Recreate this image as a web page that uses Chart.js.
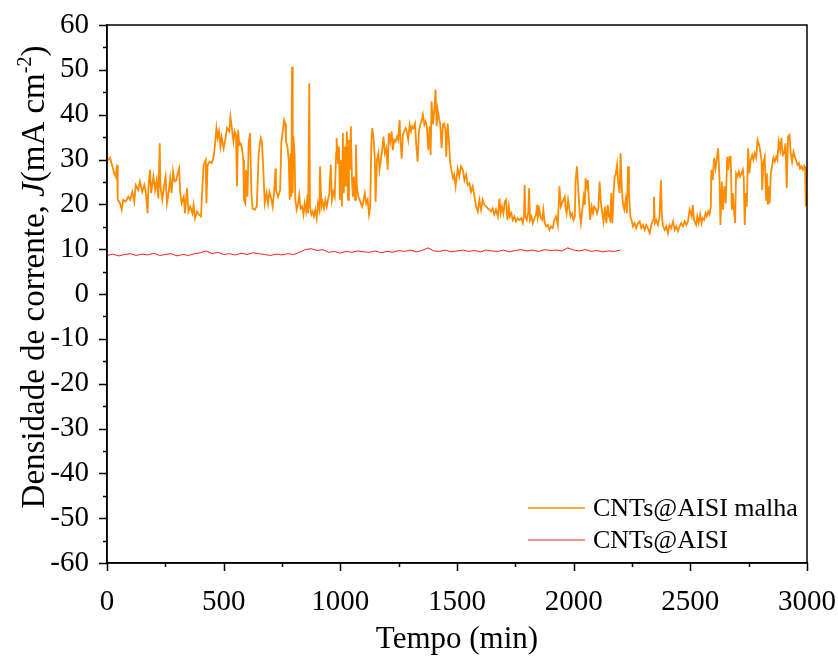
<!DOCTYPE html>
<html>
<head>
<meta charset="utf-8">
<script src="https://cdn.jsdelivr.net/npm/chart.js@4.4.1/dist/chart.umd.min.js"></script>
<style>
  html, body { margin: 0; padding: 0; background: #fff; }
  #wrap { width: 838px; height: 658px; }
</style>
</head>
<body>
<div id="wrap"><canvas id="chart" width="838" height="658"></canvas></div>
<script>
// CNTs@AISI malha (orange) - time in min, current density in mA cm-2
const orangeTime = [
  0, 13, 23, 31, 37, 43, 46, 56, 63, 70, 80, 91, 99, 109, 117, 123, 134, 141, 151, 160,
  166, 174, 177, 184, 189, 199, 206, 213, 220, 226, 229, 237, 243, 251, 257, 263, 271, 277, 283, 289,
  297, 303, 309, 314, 320, 329, 334, 343, 349, 357, 366, 371, 377, 386, 394, 403, 409, 414, 423, 426,
  431, 440, 449, 457, 463, 469, 474, 480, 486, 491,
  500, 507, 514, 524, 529, 536, 542, 547, 553, 557, 562, 567, 573, 579, 584, 587, 593, 596, 602, 607,
  613, 619, 624, 633, 642, 650, 659, 664, 670, 676, 684, 690, 696, 704, 710, 716, 722, 724, 733, 742,
  747, 753, 759, 764, 767, 773, 779, 783, 787, 790, 793, 796, 799, 804, 807, 813, 819, 824, 830, 836,
  842, 847, 853, 859, 862, 867, 870, 876, 882, 887, 893, 899, 904, 910, 913, 919, 924, 930, 936, 942,
  947, 953, 959, 964, 970, 976, 982, 984, 990,
  994, 998, 1003, 1007, 1011, 1015, 1020, 1024, 1028, 1033, 1037, 1041, 1045, 1050, 1054, 1058, 1063, 1067, 1071, 1077,
  1083, 1088, 1094, 1100, 1105, 1111, 1117, 1123, 1128, 1133, 1137, 1143, 1148, 1151, 1157, 1163, 1168, 1174, 1180, 1185,
  1191, 1197, 1203, 1208, 1214, 1220, 1225, 1231, 1237, 1243, 1248, 1254, 1258, 1263, 1268, 1274, 1280, 1285, 1291, 1297,
  1303, 1308, 1314, 1320, 1325, 1331, 1337, 1343, 1348, 1354, 1360, 1365, 1371, 1377, 1383, 1387, 1391, 1397, 1403, 1408,
  1413, 1417, 1423, 1428, 1434, 1440, 1445, 1451, 1454, 1460, 1465, 1471, 1477, 1483, 1488, 1494,
  1503, 1510, 1517, 1525, 1532, 1539, 1546, 1553, 1560, 1567, 1575, 1582, 1589, 1596, 1603, 1610, 1617, 1625, 1632, 1639,
  1646, 1653, 1660, 1667, 1675, 1682, 1687, 1693, 1699, 1705, 1710, 1716, 1722, 1727, 1733, 1739, 1746, 1753, 1760, 1767,
  1775, 1782, 1787, 1790, 1793, 1799, 1805, 1809, 1813, 1819, 1825, 1832, 1839, 1843, 1847, 1853, 1859, 1865, 1870, 1876,
  1882, 1889, 1896, 1903, 1910, 1917, 1925, 1932, 1939, 1945, 1950, 1956, 1962, 1965, 1970, 1976, 1982, 1987, 1993, 1999, 2005,
  2008, 2014, 2020, 2026, 2031, 2037, 2043, 2048, 2051, 2057, 2061, 2066, 2071, 2077, 2083, 2088, 2094, 2100, 2106, 2111,
  2117, 2123, 2128, 2134, 2140, 2146, 2151, 2157, 2161, 2166, 2171, 2176, 2180, 2186, 2191, 2197, 2201, 2206, 2211, 2217,
  2223, 2228, 2233, 2237, 2243, 2248, 2254, 2261, 2268, 2276, 2283, 2290, 2297, 2304, 2311, 2318, 2326, 2333, 2340, 2344,
  2348, 2354, 2361, 2368, 2374, 2378, 2383, 2390, 2397, 2404, 2411, 2418, 2426, 2433, 2440, 2447, 2454, 2461, 2468, 2476,
  2483, 2490, 2497,
  2506, 2510, 2516, 2525, 2530, 2536, 2542, 2548, 2553, 2559, 2565, 2570, 2576, 2582, 2588, 2590, 2596, 2602, 2608, 2613,
  2619, 2625, 2629, 2635, 2640, 2646, 2652, 2658, 2663, 2668, 2673, 2678, 2682, 2688, 2692, 2696, 2702, 2708, 2713, 2719,
  2725, 2729, 2733, 2738, 2742, 2748, 2753, 2759, 2765, 2770, 2776, 2782, 2788, 2793, 2799, 2805, 2808, 2813, 2819, 2825,
  2828, 2832, 2836, 2840, 2845, 2850, 2856, 2862, 2868, 2873, 2879, 2885, 2890, 2896, 2902, 2908, 2913, 2919, 2925, 2930,
  2936, 2942, 2948, 2953, 2959, 2965, 2970, 2976, 2982, 2988, 2992, 2995, 2996, 3000
];
const orangeJ = [
  29.6, 30.4, 28.5, 26.9, 26.2, 28.8, 21.0, 20.2, 18.8, 21.0, 20.6, 21.7, 21.0, 22.8, 20.6, 24.3, 23.2, 25.1, 22.8, 24.3,
  22.8, 18.0, 23.2, 27.7, 22.5, 26.2, 23.2, 25.4, 21.3, 33.6, 24.0, 21.0, 23.6, 26.2, 20.2, 22.1, 25.8, 22.5, 27.3, 25.1,
  25.4, 26.9, 28.0, 22.5, 20.2, 21.7, 18.0, 23.6, 18.4, 19.5, 18.0, 19.9, 16.9, 18.4, 17.7, 17.3, 24.0, 28.8, 29.9, 20.2,
  28.8, 29.5, 29.2, 30.6, 33.3, 37.0, 34.8, 36.3, 32.9, 35.1,
  32.5, 34.4, 37.0, 36.3, 39.5, 36.6, 34.0, 36.3, 35.5, 24.0, 36.6, 33.3, 33.6, 32.5, 29.9, 21.0, 20.2, 27.7, 21.7, 33.6,
  35.9, 22.5, 19.1, 18.8, 19.5, 31.4, 34.8, 34.0, 27.7, 20.2, 22.5, 20.2, 22.8, 21.3, 19.5, 22.5, 28.0, 23.2, 21.7, 23.2,
  33.6, 36.3, 38.8, 38.0, 34.0, 32.9, 29.9, 21.0, 31.4, 21.7, 50.7, 22.5, 35.1, 31.4, 21.0, 18.8, 20.2, 22.1, 19.1, 19.5,
  17.7, 20.2, 18.4, 22.1, 18.0, 47.0, 19.5, 17.7, 18.4, 17.3, 18.8, 16.9, 20.2, 18.8, 28.5, 19.5, 20.6, 19.1, 21.0, 19.5,
  21.0, 22.5, 28.8, 21.0, 22.8, 21.7, 31.4, 34.8, 29.2,
  32.9, 21.0, 29.9, 19.5, 35.9, 22.5, 32.9, 24.0, 36.3, 21.0, 34.4, 27.7, 37.4, 25.4, 21.7, 26.2, 21.0, 33.3, 24.0, 21.7,
  21.0, 20.2, 19.5, 21.0, 22.5, 20.2, 21.0, 17.7, 19.5, 33.6, 37.0, 34.4, 29.9, 20.6, 29.9, 31.4, 27.7, 29.9, 32.5, 35.1,
  31.4, 32.5, 27.7, 35.9, 34.0, 36.3, 32.1, 34.4, 34.0, 35.1, 34.4, 38.8, 34.0, 30.2, 35.5, 36.3, 37.0, 36.3, 34.4, 37.8,
  36.3, 37.4, 37.0, 38.0, 33.6, 29.5, 36.3, 37.8, 38.5, 40.0, 37.8, 38.5, 37.4, 32.1, 37.4, 31.0, 43.0, 37.8, 41.1, 45.6,
  37.4, 41.1, 39.2, 38.0, 32.5, 37.8, 38.0, 36.3, 30.6, 38.0, 34.4, 29.2, 27.3, 25.8, 26.6, 24.0,
  28.0, 26.2, 28.5, 27.7, 25.4, 26.6, 24.3, 24.7, 22.8, 24.0, 21.7, 19.5, 18.4, 21.0, 18.8, 21.0, 19.9, 19.5, 19.1, 18.8,
  18.4, 19.1, 17.7, 18.8, 17.3, 21.3, 18.0, 19.5, 18.0, 20.6, 21.0, 16.5, 19.5, 17.3, 18.0, 16.5, 17.3, 16.2, 16.9, 16.5,
  16.9, 15.8, 17.3, 24.3, 17.3, 16.5, 18.0, 23.6, 16.5, 17.3, 15.8, 16.9, 17.7, 19.9, 17.3, 18.8, 16.9, 16.5, 18.8, 15.8,
  15.1, 15.4, 14.3, 15.1, 14.7, 16.5, 17.3, 15.4, 24.0, 19.5, 20.2, 21.0, 21.7, 19.5, 18.0, 21.0, 18.8, 17.3, 18.0, 16.5, 17.3,
  25.1, 28.5, 23.2, 18.0, 15.8, 18.8, 21.7, 19.9, 25.8, 24.0, 25.4, 20.2, 16.5, 19.5, 18.0, 19.5, 19.1, 18.0, 19.1, 25.1,
  20.2, 18.0, 16.2, 19.5, 15.8, 19.9, 17.3, 16.5, 22.5, 15.8, 22.5, 26.2, 26.6, 28.8, 24.7, 22.5, 31.4, 24.0, 20.2, 18.8,
  21.0, 18.0, 28.5, 22.5, 17.3, 16.5, 15.1, 15.8, 14.7, 15.8, 16.2, 14.7, 15.4, 14.3, 15.4, 14.7, 13.6, 15.4, 16.5, 21.7,
  15.8, 16.5, 15.4, 17.3, 25.4, 17.3, 15.1, 14.3, 15.1, 13.6, 15.4, 14.7, 16.2, 14.3, 15.1, 14.0, 15.1, 15.8, 15.1, 16.2,
  15.4, 16.2, 18.8,
  17.3, 19.9, 16.5, 15.4, 17.3, 15.8, 17.7, 15.8, 16.9, 16.5, 18.0, 17.3, 18.4, 17.7, 19.5, 27.7, 25.4, 30.4, 28.0, 29.9,
  32.5, 25.8, 15.4, 25.1, 18.8, 24.0, 20.2, 30.6, 27.7, 30.6, 30.6, 18.8, 22.5, 18.0, 15.8, 26.9, 26.2, 27.3, 26.2, 26.9,
  27.7, 25.8, 15.4, 22.5, 19.5, 32.5, 26.9, 29.9, 31.0, 29.9, 31.4, 30.4, 34.4, 33.6, 32.1, 29.9, 23.2, 29.2, 30.6, 21.0,
  26.9, 19.9, 24.0, 20.2, 26.9, 28.5, 30.4, 29.5, 30.6, 29.9, 34.0, 32.1, 34.8, 31.0, 31.4, 33.6, 23.6, 35.1, 35.5, 31.4,
  29.5, 31.7, 30.6, 29.9, 28.8, 29.2, 28.0, 28.5, 27.7, 28.5, 27.7, 19.5, 28.5, 20.0
];

// CNTs@AISI (red)
const redTime = [
  0, 25, 50, 75, 100, 125, 150, 175, 200, 225, 250, 275, 300, 325, 350, 375, 400, 425, 450, 475,
  500, 525, 550, 575, 600, 625, 650, 675, 700, 725, 750, 775, 800, 825, 850, 875, 900, 925, 950, 975,
  1000, 1025, 1050, 1075, 1100, 1125, 1150, 1175, 1200, 1225, 1250, 1275, 1300, 1325, 1350, 1375, 1400, 1425, 1450, 1475,
  1500, 1525, 1550, 1575, 1600, 1625, 1650, 1675, 1700, 1725, 1750, 1775, 1800, 1825, 1850, 1875, 1900, 1925, 1950, 1975,
  2000, 2025, 2050, 2075, 2100, 2125, 2150, 2175, 2200
];
const redJ = [
  8.6, 8.9, 8.5, 8.8, 9.0, 8.6, 8.9, 8.7, 9.1, 8.6, 8.8, 9.0, 8.5, 8.8, 8.6, 9.0, 9.2, 9.6, 9.0, 9.3,
  8.8, 9.0, 8.7, 9.1, 8.8, 9.2, 9.0, 8.8, 8.6, 8.9, 8.7, 9.0, 8.8, 9.3, 9.9, 10.1, 9.7, 9.9, 9.3, 9.5,
  9.1, 9.5, 9.3, 9.6, 9.4, 9.3, 9.6, 9.2, 9.5, 9.3, 9.7, 9.5, 9.8, 9.4, 9.7, 10.3, 9.6, 9.5, 9.8, 9.4,
  9.6, 9.8, 9.5, 9.7, 9.4, 9.8, 9.6, 9.5, 9.8, 9.4, 9.7, 9.9, 9.6, 9.8, 9.5, 9.9, 9.7, 9.8, 9.6, 10.3,
  9.8, 9.6, 9.9, 9.5, 9.7, 9.4, 9.6, 9.5, 9.8
];

const seriesNames = ['CNTs@AISI malha', 'CNTs@AISI'];
const xTicks = [0, 500, 1000, 1500, 2000, 2500, 3000];
const yTicks = [-60, -50, -40, -30, -20, -10, 0, 10, 20, 30, 40, 50, 60];

const ORANGE = '#ff8c00';
const RED = '#ff1a1a';
const FONT = '"Liberation Serif", "Times New Roman", serif';

const toPoints = (xs, ys) => xs.map((x, i) => ({ x, y: ys[i] }));

// frame, tick marks, legend and y title (Origin style)
const originStyle = {
  id: 'originStyle',
  afterDraw(chart) {
    const { ctx, chartArea: a, scales } = chart;
    const xs = scales.x, ys = scales.y;
    ctx.save();
    ctx.strokeStyle = '#000';
    ctx.lineWidth = 1.5;
    ctx.strokeRect(a.left, a.top, a.right - a.left, a.bottom - a.top);

    ctx.beginPath();
    for (let v = xTicks[0]; v <= xTicks[xTicks.length - 1]; v += 250) {
      const px = Math.round(xs.getPixelForValue(v)) + 0.5;
      const len = v % 500 === 0 ? 8 : 4;
      ctx.moveTo(px, a.bottom);
      ctx.lineTo(px, a.bottom + len);
    }
    for (let v = yTicks[0]; v <= yTicks[yTicks.length - 1]; v += 5) {
      const py = Math.round(ys.getPixelForValue(v)) + 0.5;
      const len = v % 10 === 0 ? 8 : 4;
      ctx.moveTo(a.left, py);
      ctx.lineTo(a.left - len, py);
    }
    ctx.stroke();

    // legend
    const colors = [ORANGE, RED];
    const widths = [1.6, 1];
    ctx.font = `26px ${FONT}`;
    ctx.fillStyle = '#000';
    ctx.textBaseline = 'middle';
    ctx.textAlign = 'left';
    seriesNames.forEach((name, i) => {
      const ly = 508 + i * 32;
      ctx.strokeStyle = colors[i];
      ctx.lineWidth = widths[i];
      ctx.beginPath();
      ctx.moveTo(528, ly);
      ctx.lineTo(585, ly);
      ctx.stroke();
      ctx.fillText(name, 593, ly + 1);
    });

    // y title with italic J and superscript
    const parts = [
      { t: 'Densidade de corrente, ', f: `33px ${FONT}`, dy: 0 },
      { t: 'J', f: `italic 33px ${FONT}`, dy: 0 },
      { t: '(mA cm', f: `33px ${FONT}`, dy: 0 },
      { t: '-2', f: `20px ${FONT}`, dy: -13 },
      { t: ')', f: `33px ${FONT}`, dy: 0 }
    ];
    let total = 0;
    parts.forEach(p => { ctx.font = p.f; p.w = ctx.measureText(p.t).width; total += p.w; });
    ctx.translate(44, 277);
    ctx.rotate(-Math.PI / 2);
    ctx.textBaseline = 'alphabetic';
    let cx = -total / 2;
    parts.forEach(p => {
      ctx.font = p.f;
      ctx.fillText(p.t, cx, p.dy);
      cx += p.w;
    });
    ctx.restore();
  }
};

new Chart(document.getElementById('chart'), {
  type: 'line',
  data: {
    datasets: [
      {
        label: seriesNames[0],
        data: toPoints(orangeTime, orangeJ),
        borderColor: ORANGE,
        borderWidth: 1.8,
        pointRadius: 0,
        tension: 0
      },
      {
        label: seriesNames[1],
        data: toPoints(redTime, redJ),
        borderColor: RED,
        borderWidth: 1,
        pointRadius: 0,
        tension: 0
      }
    ]
  },
  options: {
    responsive: false,
    animation: false,
    layout: { padding: { top: 25, right: 31, left: 0, bottom: 0 } },
    plugins: {
      legend: { display: false },
      tooltip: { enabled: false }
    },
    scales: {
      x: {
        type: 'linear',
        min: 0,
        max: 3000,
        afterFit: s => { s.height = 95; s.paddingLeft = 0; s.paddingRight = 0; },
        afterBuildTicks: s => { s.ticks = xTicks.map(v => ({ value: v })); },
        grid: { display: false },
        border: { display: true, color: '#000', width: 1.5 },
        ticks: {
          autoSkip: false,
          maxRotation: 0,
          padding: 14,
          color: '#000',
          font: { family: FONT, size: 29 },
          callback: v => String(v)
        },
        title: {
          display: true,
          text: 'Tempo (min)',
          color: '#000',
          font: { family: FONT, size: 31 },
          padding: { top: 0, bottom: 0 }
        }
      },
      y: {
        min: -60,
        max: 60,
        afterFit: s => { s.width = 107; s.paddingTop = 0; s.paddingBottom = 0; },
        afterBuildTicks: s => { s.ticks = yTicks.map(v => ({ value: v })); },
        grid: { display: false },
        border: { display: true, color: '#000', width: 1.5 },
        ticks: {
          autoSkip: false,
          padding: 10,
          color: '#000',
          font: { family: FONT, size: 29 },
          callback: v => String(v)
        }
      }
    }
  },
  plugins: [originStyle]
});
</script>
</body>
</html>
